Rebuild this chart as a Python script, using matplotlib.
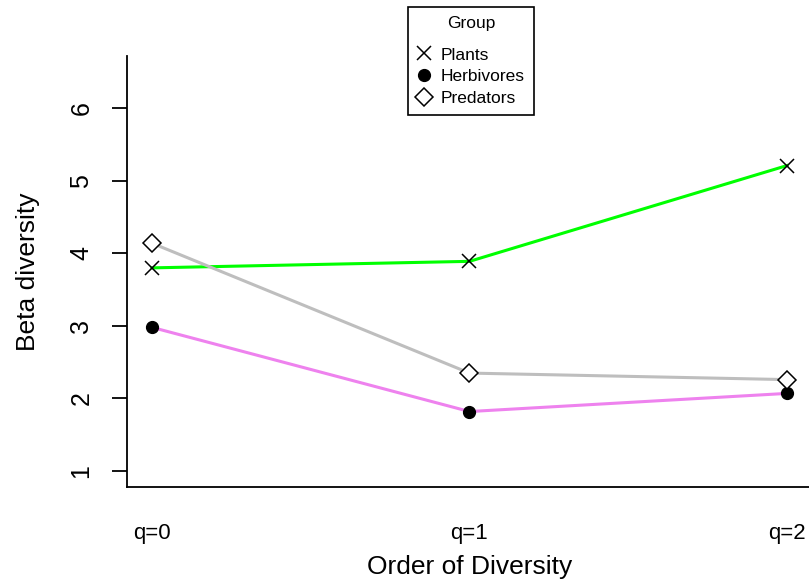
import matplotlib
matplotlib.use("Agg")
import matplotlib.pyplot as plt
from matplotlib.lines import Line2D

plt.rcParams['font.family'] = ['Liberation Sans', 'DejaVu Sans']

categories = ["q=0", "q=1", "q=2"]
plants = [3.80, 3.89, 5.21]
herbivores = [2.98, 1.82, 2.07]
predators = [4.14, 2.35, 2.26]
y_ticks = [1, 2, 3, 4, 5, 6]

W, H = 809, 586
fig = plt.figure(figsize=(W / 100, H / 100), dpi=100)
left_px, right_px, top_px, bottom_px = 126.6, 812.4, 56, 487
ax = fig.add_axes([left_px / W, 1 - bottom_px / H, (right_px - left_px) / W, (bottom_px - top_px) / H])

x = list(range(len(categories)))
ax.plot(x, plants, color="#00FF00", lw=2.2, zorder=2)
ax.plot(x, herbivores, color="#EE82EE", lw=2.2, zorder=2)
ax.plot(x, predators, color="#BEBEBE", lw=2.2, zorder=2)
ax.plot(x, plants, ls="none", marker="x", ms=10, mew=1.1, color="black", zorder=3)
ax.plot(x, herbivores, ls="none", marker="o", ms=8.5, color="black", zorder=3)
ax.plot(x, predators, ls="none", marker="D", ms=9, mew=1.1, mfc="white", mec="black", zorder=3)

ax.set_xlim(-0.08, 2.08)
ax.set_ylim(0.78, 6.72)
ax.spines['top'].set_visible(False)
ax.spines['right'].set_visible(False)
for s in ('left', 'bottom'):
    ax.spines[s].set_linewidth(1.3)

ax.set_yticks(y_ticks)
ax.set_yticklabels([str(v) for v in y_ticks], rotation=90, va='center', fontsize=18)
ax.tick_params(axis='y', length=11, width=1.3, pad=13)
ax.set_xticks(x)
ax.set_xticklabels(categories, fontsize=16)
ax.tick_params(axis='x', length=0, pad=26)

ax.set_xlabel("Order of Diversity", fontsize=19, labelpad=8)
ax.set_ylabel("Beta diversity", fontsize=19, labelpad=21)

handles = [
    Line2D([], [], ls="none", marker="x", ms=10, mew=1.1, color="black"),
    Line2D([], [], ls="none", marker="o", ms=8.5, color="black"),
    Line2D([], [], ls="none", marker="D", ms=9, mew=1.1, mfc="white", mec="black"),
]
leg = fig.legend(handles, ["Plants", "Herbivores", "Predators"], title="Group",
                 loc="upper left", bbox_to_anchor=(408 / W, 1 - 7 / H),
                 fontsize=12.5, title_fontsize=12.5, frameon=True, fancybox=False,
                 edgecolor="black", framealpha=1, handlelength=0.8, handletextpad=0.6,
                 borderpad=0.5, labelspacing=0.38, borderaxespad=0)
leg.get_frame().set_linewidth(1.2)
leg._legend_box.sep = 12

fig.savefig("out.png", dpi=100)
